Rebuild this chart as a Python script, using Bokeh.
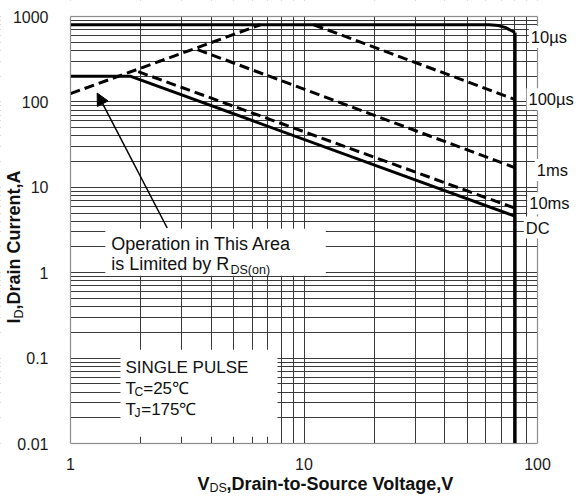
import math
from bokeh.plotting import figure
from bokeh.models import (Range1d, FixedTicker, CustomJSTickFormatter, Label,
                          BoxAnnotation, Arrow, NormalHead)
from bokeh.embed import file_html
from bokeh.resources import INLINE

# ---- axis ticks ----
x_major = [1, 10, 100]
x_minor = [2, 3, 4, 5, 6, 7, 8, 9, 20, 30, 40, 50, 60, 70, 80, 90]
y_major = [0.01, 0.1, 1, 10, 100, 1000]
y_minor = [0.02, 0.03, 0.04, 0.05, 0.06, 0.07, 0.08, 0.09,
           0.2, 0.3, 0.4, 0.5, 0.6, 0.7, 0.8, 0.9,
           2, 3, 4, 5, 6, 7, 8, 9,
           20, 30, 40, 50, 60, 70, 80, 90,
           200, 300, 400, 500, 600, 700, 800, 900]

# ---- safe operating area boundaries (V, A) ----
rds_v = [1.0, 6.5]
rds_i = [125, 800]
us10_v = [1.0, 62, 68, 73, 80]
us10_i = [800, 800, 785, 740, 650]
us100_v = [11, 80]
us100_i = [800, 107]
ms1_v = [3.5, 80]
ms1_i = [410, 17]
ms10_v = [1.95, 80]
ms10_i = [226, 5.7]
dc_v = [1.0, 1.8, 80]
dc_i = [200, 200, 4.6]
vmax_v = [80, 80]
vmax_i = [0.01, 650]

curve_labels = ["10µs", "100µs", "1ms", "10ms", "DC"]

FONT = "Liberation Sans"
GRID = "#3a3a3a"

# ---- geometry: the frame fills the canvas; the chart box sits inside ----
W, H = 576, 496
LEFT, TOP = 70, 16            # pixel position of V=1 and I=1000
PX_DEC_X, PX_DEC_Y = 233.5, 85.4
x_lo = 10 ** (-LEFT / PX_DEC_X)
x_hi = 10 ** ((W - LEFT) / PX_DEC_X)
y_hi = 10 ** (3 + TOP / PX_DEC_Y)
y_lo = 10 ** (3 - (H - TOP) / PX_DEC_Y)

p = figure(width=W, height=H, x_axis_type="log", y_axis_type="log",
           x_range=Range1d(x_lo, x_hi), y_range=Range1d(y_lo, y_hi),
           output_backend="svg", toolbar_location=None, min_border=0)
p.background_fill_color = "white"
p.border_fill_color = "white"
p.outline_line_color = None

p.xaxis.ticker = FixedTicker(ticks=x_major, minor_ticks=x_minor)
p.yaxis.ticker = FixedTicker(ticks=y_major, minor_ticks=y_minor)
fmt = CustomJSTickFormatter(code="return tick.toString();")
for ax in (p.xaxis, p.yaxis):
    ax.formatter = fmt
    ax.axis_line_color = None
    ax.major_tick_line_color = None
    ax.minor_tick_line_color = None
    ax.major_label_text_font = FONT
    ax.major_label_text_font_size = "16px"
    ax.major_label_text_color = "#1a1a1a"
    ax.level = "overlay"
p.xaxis.fixed_location = y_major[0]
p.yaxis.fixed_location = x_major[0]
p.xaxis.major_label_standoff = 8
p.yaxis.major_label_standoff = 16

for g in (p.xgrid, p.ygrid):
    g.grid_line_color = GRID
    g.grid_line_width = 1
    g.minor_grid_line_color = GRID
    g.minor_grid_line_width = 1

# curves
p.line(us10_v, us10_i, line_color="black", line_width=3)
p.line(rds_v, rds_i, line_color="black", line_width=3, line_dash="10 5")
p.line(us100_v, us100_i, line_color="black", line_width=3, line_dash="10 5")
p.line(ms1_v, ms1_i, line_color="black", line_width=3, line_dash="10 5")
p.line(ms10_v, ms10_i, line_color="black", line_width=3, line_dash="10 5")
p.line(dc_v, dc_i, line_color="black", line_width=3)
p.line(vmax_v, vmax_i, line_color="black", line_width=3.5)

# mask everything outside the chart box
WHITE = dict(fill_color="white", fill_alpha=1, line_color=None)
p.add_layout(BoxAnnotation(right=x_major[0], **WHITE))
p.add_layout(BoxAnnotation(left=x_major[-1], **WHITE))
p.add_layout(BoxAnnotation(bottom=y_major[-1], **WHITE))
p.add_layout(BoxAnnotation(top=y_major[0], **WHITE))
# chart border
p.add_layout(BoxAnnotation(left=x_major[0], right=x_major[-1],
                           bottom=y_major[0], top=y_major[-1],
                           fill_alpha=0, line_color="#666666", line_width=1.5))

# white boxes behind annotation texts
p.add_layout(BoxAnnotation(left=1.41, right=12.4, bottom=0.92, top=3.27, **WHITE))
p.add_layout(BoxAnnotation(left=1.637, right=7.7, bottom=0.012, top=0.1254, **WHITE))

p.add_layout(Arrow(x_start=2.595, y_start=3.34, x_end=1.301, y_end=127,
                   line_color="black", line_width=1.5,
                   end=NormalHead(size=12, fill_color="black", line_color="black")))

BASE_SHIFT = 0.38   # baseline correction, fraction of the font size


def txt(t, sx, sy, size, bold=False, rotated=False, color="#111111", bg=None):
    shift = BASE_SHIFT * size
    if rotated:
        sx, angle = sx - shift, math.pi / 2
    else:
        sy, angle = sy + shift, 0.0
    lab = Label(x=sx, y=sy, x_units="screen", y_units="screen", text=t,
                text_font=FONT, text_font_size=f"{size}px", text_color=color,
                text_font_style="bold" if bold else "normal",
                text_align="left", text_baseline="alphabetic", angle=angle)
    if bg is not None:
        lab.background_fill_color = bg
        lab.background_fill_alpha = 1.0
        lab.padding = 2
    p.add_layout(lab)


# Operation note
txt("Operation in This Area", 110.7, 246, 18)
txt("is Limited by R", 110.7, 226, 18)
txt("DS(on)", 230, 222, 12.5)

# Single pulse note
txt("SINGLE PULSE", 125, 123, 17)
txt("T", 125, 102, 17)
txt("C", 134, 100, 12)
txt("=25℃", 142.7, 102, 17)
txt("T", 125, 81, 17)
txt("J", 134, 79, 12)
txt("=175℃", 140.7, 81, 17)

# curve labels on the right
label_pos = [(528.3, 453.3), (526, 391), (534.3, 320.3), (526.7, 287), (523.3, 262.7)]
for t, (sx, sy) in zip(curve_labels, label_pos):
    txt(t, sx, sy, 16.5, bg="white")

# x axis title
txt("V", 197, 5.5, 18, bold=True)
txt("DS", 209, 4, 12.5)
txt(",Drain-to-Source Voltage,V", 226, 5.5, 18, bold=True)

# y axis title
txt("I", 20, 173, 18, bold=True, rotated=True)
txt("D", 23, 178, 12.5, rotated=True)
txt(",Drain Current,A", 20, 187, 18, bold=True, rotated=True)

open("out.html", "w").write(file_html(p, INLINE))
